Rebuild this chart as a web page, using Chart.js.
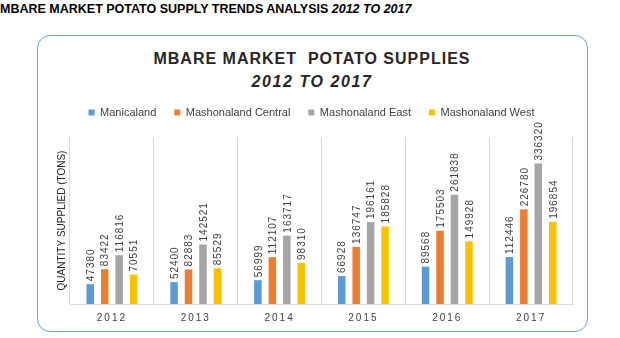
<!DOCTYPE html>
<html>
<head>
<meta charset="utf-8">
<script src="https://cdn.jsdelivr.net/npm/chart.js@4/dist/chart.umd.min.js"></script>
<style>
  body { margin: 0; width: 620px; height: 338px; background: #fff; position: relative; overflow: hidden; font-family: "Liberation Sans", Arial, sans-serif; }
  .header { position: absolute; left: 0; top: 2px; font-size: 12.5px; font-weight: bold; color: #000; white-space: nowrap; }
  .box { position: absolute; left: 37px; top: 35px; width: 549px; height: 295px; border: 1.5px solid #72a0d8; border-radius: 13px; background: #fff; }
  .title1, .title2 { position: absolute; left: 0; width: 624px; text-align: center; font-weight: bold; color: #262626; font-size: 16px; white-space: nowrap; }
  .title1 { top: 50px; letter-spacing: 1px; }
  .title2 { top: 73px; letter-spacing: 1.6px; font-style: italic; }
  canvas { position: absolute; left: 0; top: 0; }
</style>
</head>
<body>
<div class="header">MBARE MARKET POTATO SUPPLY TRENDS ANALYSIS <i>2012 TO 2017</i></div>
<div class="box"></div>
<div class="title1">MBARE MARKET &nbsp;POTATO SUPPLIES</div>
<div class="title2">2012 TO 2017</div>
<canvas id="supplyChart" width="620" height="338"></canvas>
<script>
// years on the x axis
const years = ['2012', '2013', '2014', '2015', '2016', '2017'];

// tonnes supplied per province
const manicaland = [47380, 52400, 56999, 66928, 89568, 112446];
const mashCentral = [83422, 82883, 112107, 136747, 175503, 226780];
const mashEast = [116816, 142521, 163717, 196161, 261838, 336320];
const mashWest = [70551, 85529, 98310, 185828, 149928, 196854];

const seriesNames = ['Manicaland', 'Mashonaland Central', 'Mashonaland East', 'Mashonaland West'];
const seriesColors = ['#5b9bd5', '#ed7d31', '#a5a5a5', '#ffc000'];

const yMax = 400000;

// draws the value above each bar, turned on its side
const valueLabels = {
  id: 'valueLabels',
  afterDatasetsDraw(chart) {
    const ctx = chart.ctx;
    ctx.save();
    ctx.font = '10px "Liberation Sans", Arial, sans-serif';
    ctx.fillStyle = '#404040';
    ctx.letterSpacing = '1px';
    ctx.textAlign = 'left';
    ctx.textBaseline = 'middle';
    chart.data.datasets.forEach((ds, i) => {
      const meta = chart.getDatasetMeta(i);
      meta.data.forEach((bar, j) => {
        ctx.save();
        ctx.translate(bar.x + 1, bar.y - 3);
        ctx.rotate(-Math.PI / 2);
        ctx.fillText(String(ds.data[j]), 0, 0);
        ctx.restore();
      });
    });
    ctx.restore();
  }
};

// spread out the year labels a bit
const spacedYears = {
  id: 'spacedYears',
  beforeDraw(chart) {
    const sc = chart.scales.x;
    if (sc._spaced) return;
    const orig = sc.drawLabels.bind(sc);
    sc.drawLabels = function(area) {
      this.ctx.save();
      this.ctx.letterSpacing = '2px';
      orig(area);
      this.ctx.restore();
    };
    sc._spaced = true;
  }
};

// a bit more room under the legend
const legendGap = {
  id: 'legendGap',
  beforeInit(chart) {
    const fit = chart.legend.fit;
    chart.legend.fit = function() {
      fit.bind(chart.legend)();
      this.height += 9;
    };
  }
};

const ctx = document.getElementById('supplyChart').getContext('2d');

const chart = new Chart(ctx, {
  type: 'bar',
  data: {
    labels: years,
    datasets: [manicaland, mashCentral, mashEast, mashWest].map((vals, i) => ({
      label: seriesNames[i],
      data: vals,
      backgroundColor: seriesColors[i],
      borderWidth: 0,
      categoryPercentage: 0.69,
      barPercentage: 0.52
    }))
  },
  options: {
    responsive: false,
    devicePixelRatio: 1,
    animation: false,
    layout: { padding: { top: 89, left: 50, right: 47, bottom: 6 } },
    scales: {
      x: {
        grid: { display: true, color: '#d9d9d9', drawTicks: false, offset: true },
        border: { display: true, color: '#d9d9d9' },
        ticks: { color: '#404040', padding: 8, font: { size: 10, family: '"Liberation Sans", Arial, sans-serif' } }
      },
      y: {
        min: 0,
        max: yMax,
        grid: { display: false, drawTicks: false },
        border: { display: false },
        ticks: { display: false, padding: 0 },
        title: {
          display: true,
          text: 'QUANTITY SUPPLIED (TONS)',
          color: '#262626',
          padding: { top: 6, bottom: 2 },
          font: { size: 10, family: '"Liberation Sans", Arial, sans-serif' }
        }
      }
    },
    plugins: {
      legend: {
        position: 'top',
        labels: {
          boxWidth: 6,
          boxHeight: 6,
          padding: 18,
          color: '#404040',
          font: { size: 11, family: '"Liberation Sans", Arial, sans-serif' }
        }
      },
      tooltip: { enabled: false }
    }
  },
  plugins: [valueLabels, spacedYears, legendGap]
});
</script>
</body>
</html>
